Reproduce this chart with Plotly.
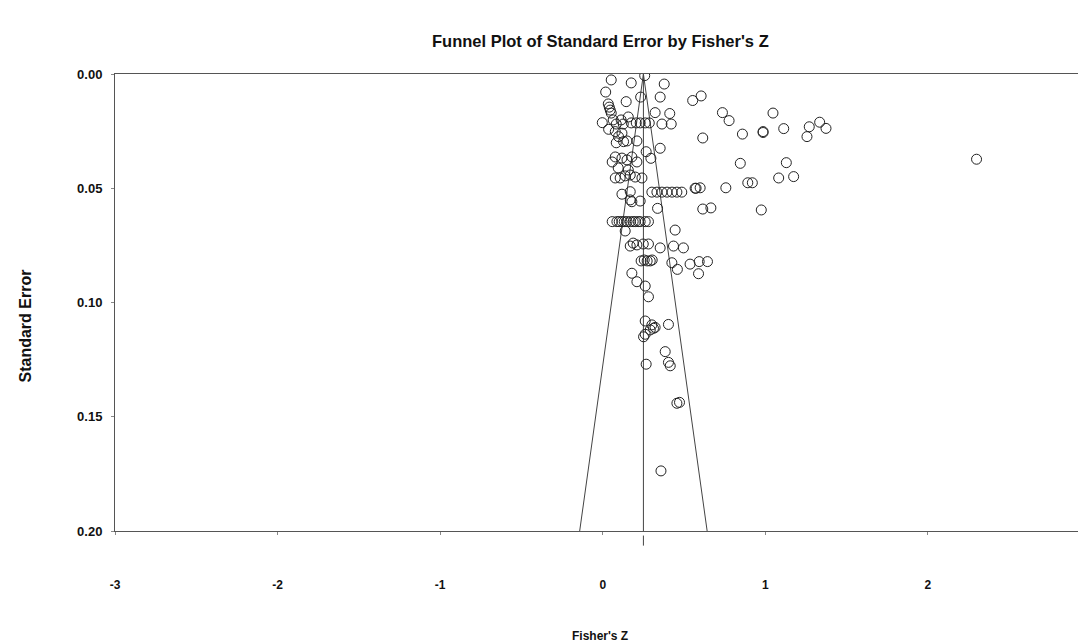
import plotly.graph_objects as go

# Study effect sizes (Fisher's Z) and their standard errors
fisher_z = [
    0.258, 0.052, 0.175, 0.378, 0.018, 0.233, 0.353, 0.144, 0.553, 0.605,
    0.034, 0.040, 0.046, 0.052, 0.322, 0.412, 0.736, 0.777, 1.047, -0.003,
    0.064, 0.083, 0.113, 0.126, 0.157, 0.175, 0.206, 0.230, 0.261, 0.286,
    0.364, 0.421, 0.615, 0.859, 0.986, 0.986, 1.113, 1.270, 1.334, 1.373,
    1.256, 0.036, 0.077, 0.118, 0.097, 0.083, 0.128, 0.149, 0.210, 0.267,
    0.353, 0.296, 0.846, 1.129, 2.299, 1.082, 1.174, 0.892, 0.920, 0.757,
    0.568, 0.599, 0.077, 0.118, 0.149, 0.179, 0.210, 0.058, 0.077, 0.107,
    0.138, 0.169, 0.200, 0.241, 0.095, 0.157, 0.118, 0.169, 0.169, 0.179,
    0.230, 0.302, 0.333, 0.364, 0.395, 0.426, 0.456, 0.486, 0.574, 0.337,
    0.615, 0.665, 0.975, 0.087, 0.118, 0.149, 0.169, 0.200, 0.230, 0.261,
    0.281, 0.058, 0.101, 0.132, 0.187, 0.218, 0.138, 0.445, 0.169, 0.187,
    0.210, 0.249, 0.281, 0.353, 0.435, 0.496, 0.236, 0.255, 0.273, 0.292,
    0.304, 0.425, 0.459, 0.537, 0.179, 0.210, 0.261, 0.281, 0.261, 0.302,
    0.322, 0.292, 0.312, 0.404, 0.251, 0.261, 0.384, 0.267, 0.404, 0.415,
    0.456, 0.472, 0.358, 0.593, 0.644, 0.589,
]
std_error = [
    0.0007, 0.0026, 0.0039, 0.0044, 0.0079, 0.0101, 0.0101, 0.0121, 0.0116, 0.0096,
    0.0131, 0.0145, 0.0158, 0.0171, 0.0169, 0.0173, 0.0169, 0.0204, 0.0171, 0.0213,
    0.0201, 0.0219, 0.0201, 0.0219, 0.0188, 0.0214, 0.0214, 0.0214, 0.0214, 0.0214,
    0.0219, 0.0219, 0.0280, 0.0263, 0.0252, 0.0256, 0.0239, 0.0231, 0.0211, 0.0238,
    0.0274, 0.0242, 0.0252, 0.0259, 0.0274, 0.0301, 0.0296, 0.0293, 0.0293, 0.0340,
    0.0325, 0.0369, 0.0391, 0.0388, 0.0373, 0.0455, 0.0449, 0.0476, 0.0476, 0.0498,
    0.0500, 0.0498, 0.0363, 0.0368, 0.0376, 0.0363, 0.0385, 0.0385, 0.0455, 0.0455,
    0.0446, 0.0442, 0.0451, 0.0455, 0.0411, 0.0420, 0.0526, 0.0515, 0.0551, 0.0559,
    0.0556, 0.0517, 0.0517, 0.0517, 0.0517, 0.0517, 0.0517, 0.0517, 0.0500, 0.0588,
    0.0591, 0.0586, 0.0595, 0.0646, 0.0646, 0.0646, 0.0646, 0.0646, 0.0646, 0.0646,
    0.0646, 0.0646, 0.0646, 0.0646, 0.0646, 0.0646, 0.0687, 0.0683, 0.0753, 0.0740,
    0.0748, 0.0744, 0.0744, 0.0761, 0.0753, 0.0761, 0.0818, 0.0814, 0.0818, 0.0818,
    0.0814, 0.0826, 0.0855, 0.0832, 0.0872, 0.0909, 0.0928, 0.0975, 0.1081, 0.1098,
    0.1109, 0.1120, 0.1113, 0.1096, 0.1150, 0.1139, 0.1215, 0.1270, 0.1262, 0.1277,
    0.1441, 0.1437, 0.1737, 0.0821, 0.0821, 0.0874,
]

pooled_z = 0.25
se_max = 0.20
z_crit = 1.96
x_ticks = [-3, -2, -1, 0, 1, 2, 3]
y_ticks = [0.00, 0.05, 0.10, 0.15, 0.20]

title_text = "Funnel Plot of Standard Error by Fisher's Z"
x_title = "Fisher's Z"
y_title = "Standard Error"

FONT = "Liberation Sans, Arial, sans-serif"
LINE = "#444444"

fig = go.Figure()

# funnel (pseudo 95% limits)
fig.add_trace(go.Scatter(
    x=[pooled_z - z_crit * se_max, pooled_z, pooled_z + z_crit * se_max],
    y=[se_max, 0, se_max],
    mode="lines", line=dict(color=LINE, width=1), hoverinfo="skip", showlegend=False,
))
# pooled estimate line
fig.add_trace(go.Scatter(
    x=[pooled_z, pooled_z], y=[0, se_max],
    mode="lines", line=dict(color=LINE, width=1), hoverinfo="skip", showlegend=False,
))
# studies
fig.add_trace(go.Scatter(
    x=fisher_z, y=std_error, mode="markers",
    marker=dict(symbol="circle-open", size=10, color="#222222", line=dict(width=1)),
    showlegend=False,
))

# small marker below axis at pooled estimate
fig.add_shape(type="line", xref="x", yref="paper", x0=pooled_z, x1=pooled_z,
              y0=-0.01, y1=-0.032, line=dict(color=LINE, width=1))

fig.update_layout(
    width=1078, height=636,
    margin=dict(l=107, r=1, t=66, b=113),
    paper_bgcolor="white", plot_bgcolor="white",
    font=dict(family=FONT, color="#111111"),
    xaxis=dict(
        range=[-3, 2.966], tickvals=x_ticks, ticktext=[str(v) for v in x_ticks],
        showgrid=False, zeroline=False, showline=True, linecolor="#555555", linewidth=1,
        mirror=True, ticks="outside", ticklen=3, tickcolor="#888888",
        ticklabelstandoff=40,
        tickfont=dict(size=12, weight="bold", family=FONT, color="#111111"),
    ),
    yaxis=dict(
        range=[se_max, 0], tickvals=y_ticks, tickformat=".2f",
        showgrid=False, zeroline=False, showline=True, linecolor="#555555", linewidth=1,
        mirror=True, ticks="outside", ticklen=3, tickcolor="#888888",
        ticklabelstandoff=6,
        tickfont=dict(size=13, weight="bold", family=FONT, color="#111111"),
    ),
    annotations=[
        dict(text=title_text, xref="paper", yref="paper", x=0.5, y=1, yshift=33,
             showarrow=False, font=dict(size=16.5, weight="bold", family=FONT, color="#111111"),
             xanchor="center", yanchor="middle"),
        dict(text=x_title, xref="paper", yref="paper", x=0.5, y=0, yshift=-105,
             showarrow=False, font=dict(size=12, weight="bold", family=FONT, color="#111111"),
             xanchor="center", yanchor="middle"),
        dict(text=y_title, xref="paper", yref="paper", x=0, y=0.5, xshift=-90, yshift=-24,
             textangle=-90, showarrow=False,
             font=dict(size=16, weight="bold", family=FONT, color="#111111"),
             xanchor="center", yanchor="middle"),
    ],
)

fig.write_html("out.html")
